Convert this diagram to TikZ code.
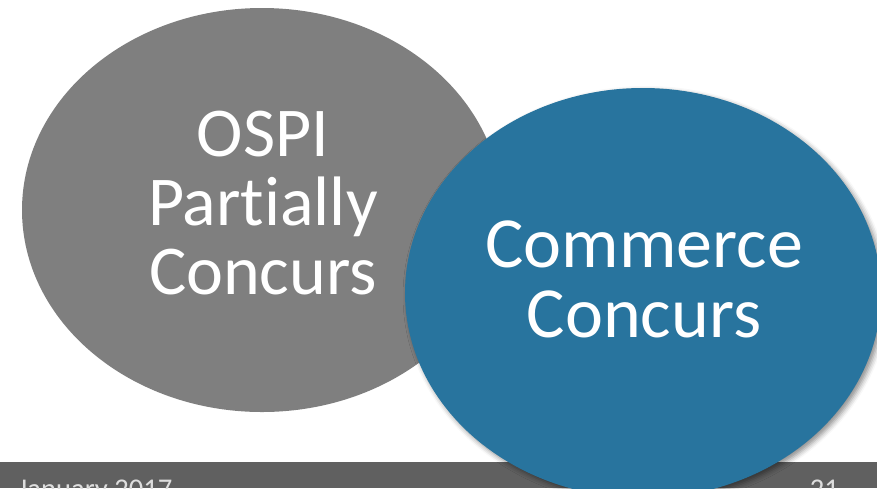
\documentclass[tikz,border=0pt]{standalone}
\usepackage{fontspec}
\setmainfont[Ligatures=NoCommon]{Carlito}
\usepackage{tikz}
\usetikzlibrary{shapes.geometric, shadows.blur}
\definecolor{ospigray}{RGB}{127,127,127}
\definecolor{commblue}{RGB}{40,116,158}
\definecolor{footgray}{RGB}{96,96,96}
\definecolor{foottext}{RGB}{222,222,222}
\tikzset{
  bubble/.style={ellipse, inner sep=0pt},
  bigtext/.style={text=white, align=center},
  foot/.style={text=foottext, inner sep=0pt, font=\fontsize{28.6}{30}\selectfont}
}

\begin{document}
\begin{tikzpicture}[x=1pt, y=-1pt]
  \clip (0,0) rectangle (877,488);
  % Elip xám
  \node[bubble, fill=ospigray, minimum width=480pt, minimum height=404pt] (ospi) at (262,210) {};
  \node[bigtext, font=\fontsize{70}{69}\selectfont] (ospitext) at (263,203) {OSPI\\Partially\\Concurs};
  % Chân trang
  \fill[footgray] (0,462) rectangle (877,488);
  \node[foot, anchor=base west] (date) at (18,498) {January 2017};
  \node[foot, anchor=base east] (page) at (839,498) {21};
  % Elip xanh
  \node[bubble, fill=commblue, minimum width=476pt, minimum height=410pt,
        blur shadow={shadow xshift=3pt, shadow yshift=-3pt, shadow blur radius=5pt, shadow opacity=45}] (commerce) at (643,293) {};
  \node[bigtext, font=\fontsize{72}{70}\selectfont] (commtext) at (644,279) {Commerce\\Concurs};
\end{tikzpicture}
\end{document}
